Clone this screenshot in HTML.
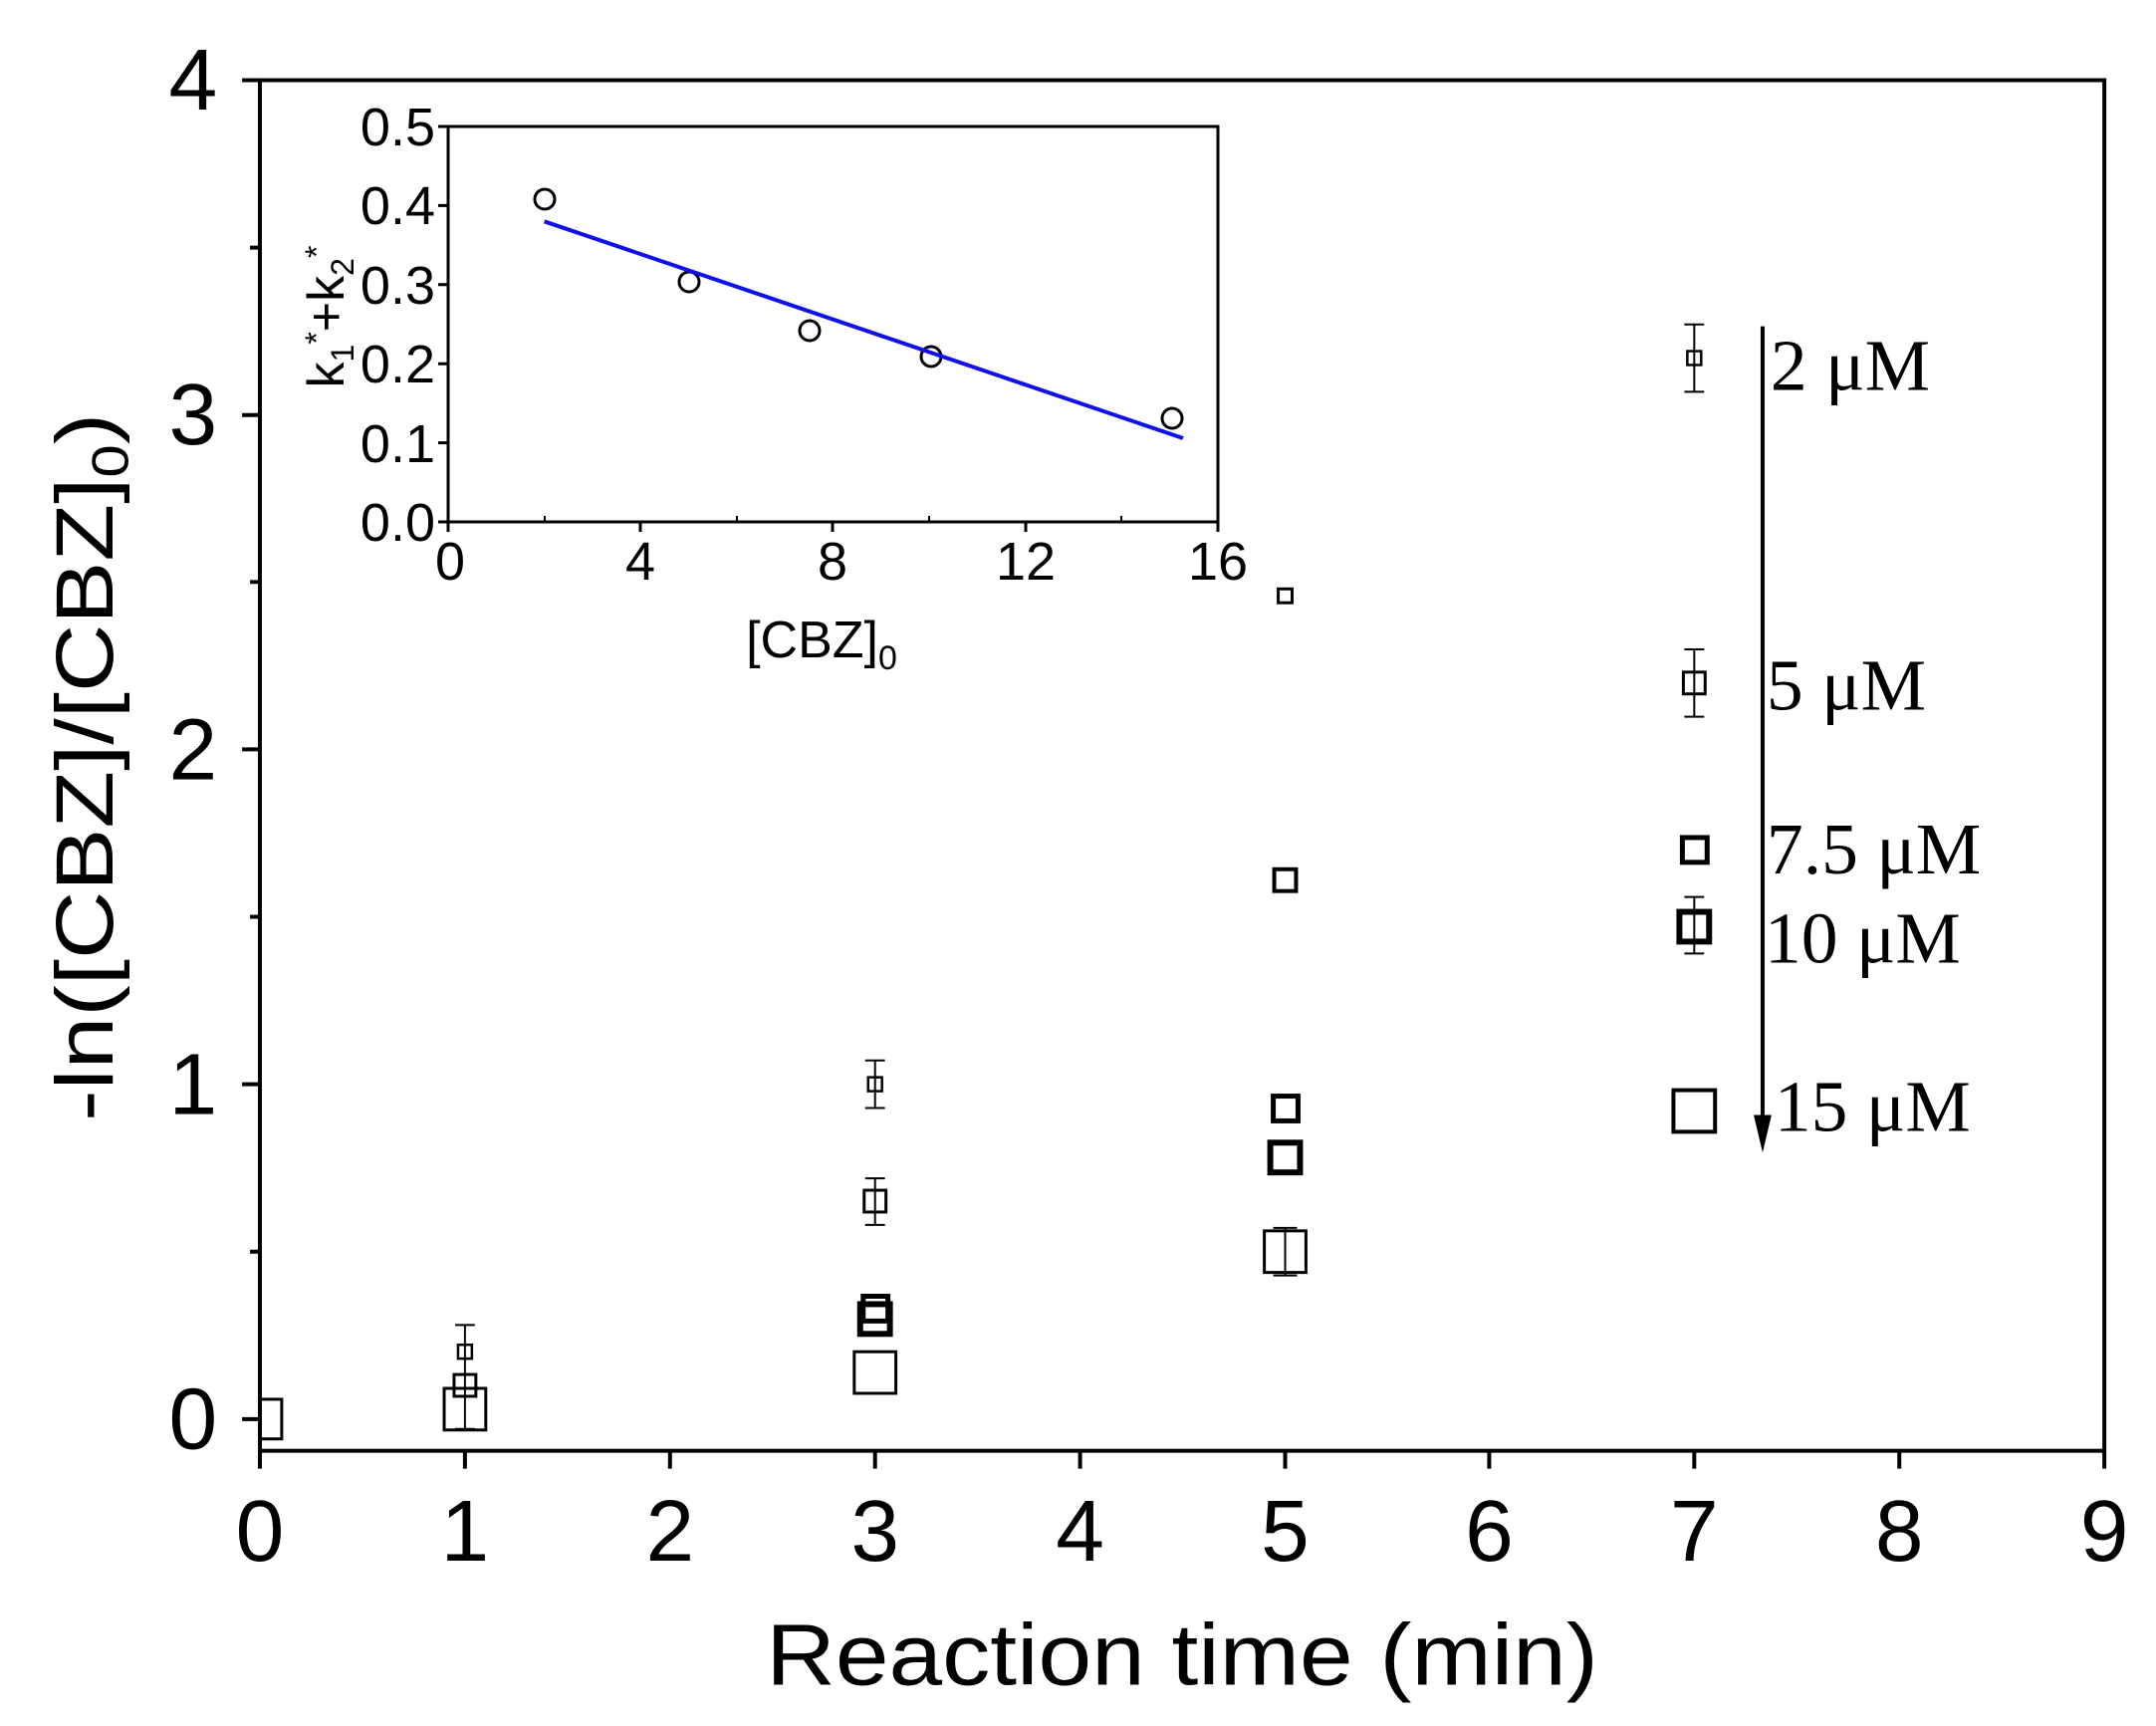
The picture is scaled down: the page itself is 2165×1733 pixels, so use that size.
<!DOCTYPE html>
<html><head><meta charset="utf-8"><style>html,body{margin:0;padding:0;background:#fff}svg{display:block}</style></head>
<body>
<svg width="2165" height="1733" viewBox="0 0 2165 1733" xmlns="http://www.w3.org/2000/svg">
<g transform="translate(261,80.5) scale(0.9947) translate(-261,-80.5)">
<g fill="none" stroke="#000">
<rect x="261" y="80.5" width="1862" height="1383.5" stroke-width="4"/>
<g stroke-width="4">
<path d="M261 1464v18M468 1464v18M675 1464v18M882 1464v18M1089 1464v18M1296 1464v18M1502 1464v18M1709 1464v18M1916 1464v18M2123 1464v18"/>
<path d="M243 80.5h18M243 418.5h18M243 756h18M243 1094h18M243 1432h18"/>
<path d="M251 249.5h10M251 587h10M251 925h10M251 1263h10"/>
</g>
<g stroke-width="2">
<path d="M1709 327v68M1699 327h20M1699 395h20M1709 655v68M1699 655h20M1699 723h20M1709 905v57M1699 905h20M1699 962h20"/>
<path d="M882 1070v48M872 1070h20M872 1118h20M882 1189v47M872 1189h20M872 1236h20M1296 1239v48M1284 1239h24M1284 1287h24"/>
<path d="M468 1337v105M458 1337h20M458 1442h20"/>
</g>
<rect x="1702" y="354" width="14" height="14" stroke-width="2.5"/>
<rect x="1698" y="678" width="22" height="22" stroke-width="3"/>
<rect x="1697" y="845" width="25" height="25" stroke-width="5"/>
<rect x="1694" y="920" width="30" height="30" stroke-width="6"/>
<rect x="1688" y="1100" width="42" height="42" stroke-width="4"/>
<rect x="1289" y="594" width="14" height="14" stroke-width="3"/>
<rect x="1285" y="877" width="22" height="22" stroke-width="4"/>
<rect x="1284" y="1106" width="25" height="25" stroke-width="5"/>
<rect x="1281" y="1153" width="30" height="30" stroke-width="6"/>
<rect x="1275" y="1242" width="42" height="42" stroke-width="3"/>
<rect x="875" y="1087" width="14" height="14" stroke-width="2.5"/>
<rect x="871" y="1201" width="22" height="22" stroke-width="3"/>
<rect x="870" y="1308" width="25" height="25" stroke-width="5"/>
<rect x="867" y="1316" width="30" height="30" stroke-width="6"/>
<rect x="861" y="1364" width="42" height="42" stroke-width="3"/>
<rect x="461" y="1357" width="14" height="14" stroke-width="2.5"/>
<rect x="457" y="1387" width="22" height="22" stroke-width="3"/>
<rect x="447" y="1401" width="42" height="42" stroke-width="3"/>
<rect x="261" y="1412" width="22" height="40" stroke-width="3"/>
<path d="M1778 329V1130" stroke-width="4"/>
</g>
<path d="M1769 1125h18l-9 38z" fill="#000"/>
<g font-family="'Liberation Serif',serif" font-size="74" fill="#000">
<text x="1786" y="393">2 μM</text>
<text x="1782" y="716">5 μM</text>
<text x="1782" y="881">7.5 μM</text>
<text x="1780" y="971">10 μM</text>
<text x="1790" y="1141">15 μM</text>
</g>
<g font-family="'Liberation Sans',sans-serif" font-size="88" fill="#000" text-anchor="middle">
<text x="261" y="1575">0</text><text x="468" y="1575">1</text><text x="675" y="1575">2</text><text x="882" y="1575">3</text><text x="1089" y="1575">4</text><text x="1296" y="1575">5</text><text x="1502" y="1575">6</text><text x="1709" y="1575">7</text><text x="1916" y="1575">8</text><text x="2123" y="1575">9</text>
</g>
<g font-family="'Liberation Sans',sans-serif" font-size="88" fill="#000" text-anchor="end">
<text x="218" y="110">4</text><text x="218" y="448">3</text><text x="218" y="786">2</text><text x="218" y="1124">1</text><text x="218" y="1462">0</text>
</g>
<text x="1192" y="1700" font-family="'Liberation Sans',sans-serif" font-size="88" text-anchor="middle" textLength="840" lengthAdjust="spacingAndGlyphs">Reaction time (min)</text>
<text transform="translate(112,774) rotate(-90)" font-family="'Liberation Sans',sans-serif" font-size="82" text-anchor="middle" textLength="715" lengthAdjust="spacingAndGlyphs">-ln([CBZ]/[CBZ]<tspan font-size="52" dy="16">0</tspan><tspan dy="-16">)</tspan></text>
</g>
<g fill="none" stroke="#000">
<rect x="450" y="127" width="773" height="397" stroke-width="3"/>
<path d="M440 127h10M440 206.4h10M440 285.8h10M440 365.2h10M440 444.6h10M440 524h10" stroke-width="3"/>
<path d="M450 524v10M643 524v10M836 524v10M1030 524v10M1223 524v10" stroke-width="3"/>
<path d="M547 524v-6M740 524v-6M933 524v-6M1126 524v-6" stroke-width="2"/>
<g stroke-width="3">
<circle cx="547" cy="200" r="10"/><circle cx="692" cy="283" r="10"/><circle cx="813" cy="332" r="10"/><circle cx="935" cy="358" r="10"/><circle cx="1177" cy="420" r="10"/>
</g>
<path d="M546.6 222.3L1188 440" stroke="#1010ee" stroke-width="4"/>
</g>
<g font-family="'Liberation Sans',sans-serif" font-size="54" fill="#000" text-anchor="end">
<text x="437" y="146">0.5</text><text x="437" y="225">0.4</text><text x="437" y="305">0.3</text><text x="437" y="384">0.2</text><text x="437" y="464">0.1</text><text x="437" y="543">0.0</text>
</g>
<g font-family="'Liberation Sans',sans-serif" font-size="54" fill="#000" text-anchor="middle">
<text x="452" y="582">0</text><text x="643" y="582">4</text><text x="836" y="582">8</text><text x="1030" y="582">12</text><text x="1223" y="582">16</text>
</g>
<text x="825" y="660" font-family="'Liberation Sans',sans-serif" font-size="52" text-anchor="middle">[CBZ]<tspan font-size="34" dy="12">0</tspan></text>
<text transform="translate(345,318) rotate(-90)" font-family="'Liberation Sans',sans-serif" font-size="52" text-anchor="middle">k<tspan font-size="32" dy="10">1</tspan><tspan font-size="32" dy="-26">*</tspan><tspan dy="16">+k</tspan><tspan font-size="32" dy="10">2</tspan><tspan font-size="32" dy="-26">*</tspan></text>
</svg>
</body></html>
